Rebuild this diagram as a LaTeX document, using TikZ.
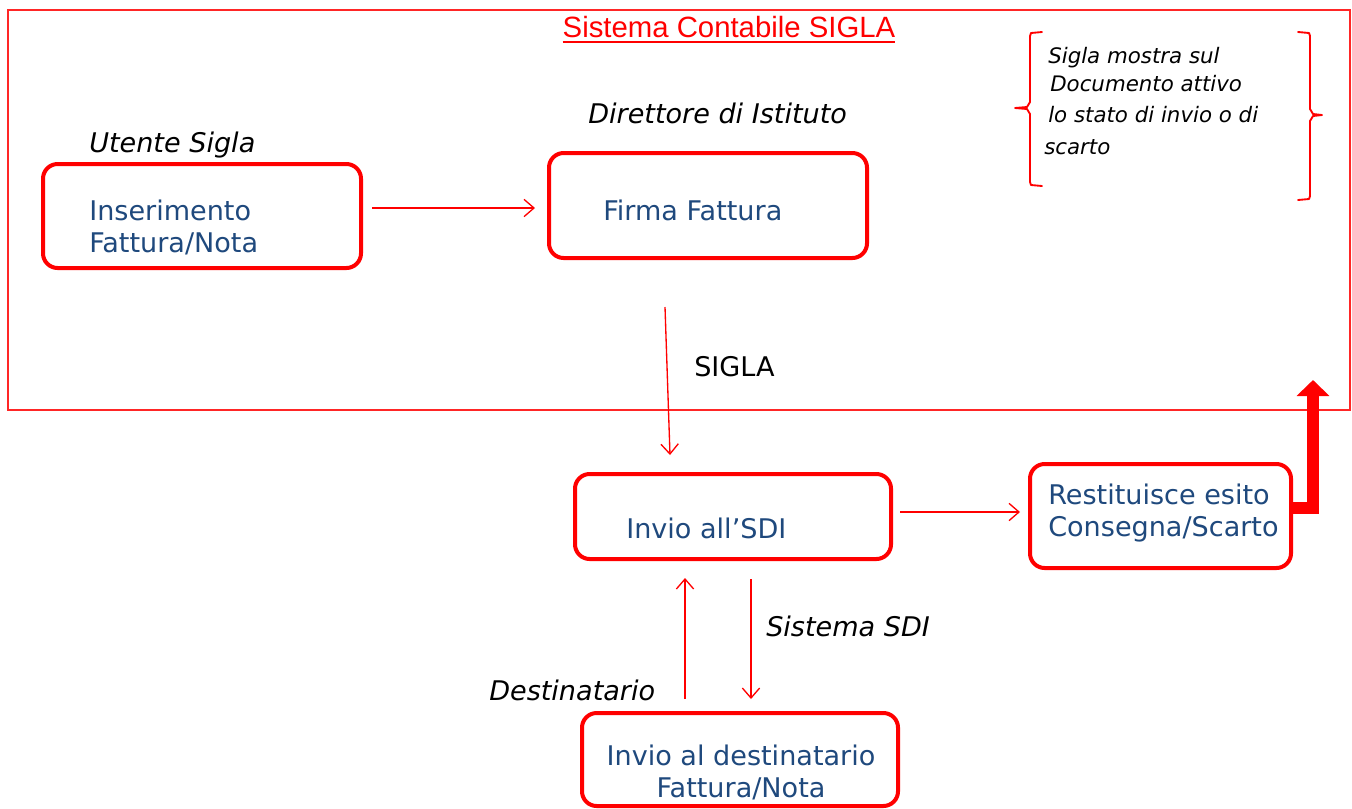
\documentclass[tikz,border=0pt]{standalone}
\usepackage{fontspec}
\setmainfont{DejaVu Sans}
\newfontfamily\titlefont{Liberation Sans}
\usetikzlibrary{arrows.meta,calc}
\definecolor{boxred}{HTML}{FF0000}
\definecolor{txtblue}{HTML}{1F497D}
\newcommand\ulred[1]{\setbox0\hbox{#1}\rlap{\raisebox{-4pt}{\rule{\wd0}{1.6pt}}}\box0}
\tikzset{
  box/.style={draw=boxred, line width=3pt, rounded corners=11pt, fill=white, inner sep=0pt},
  boxtext/.style={text=txtblue, font=\fontsize{20.3}{24}\selectfont, align=left, inner sep=0pt},
  lbl/.style={font=\fontsize{20.3}{24}\selectfont\itshape, inner sep=0pt},
  notetext/.style={font=\fontsize{16}{18}\selectfont\itshape, inner sep=0pt, anchor=west},
  arr/.style={draw=boxred, line width=1pt, -{Straight Barb[length=7.5pt,width=13pt]}},
  bigarr/.style={draw=boxred, line width=9pt, line join=miter, -{Triangle[length=12pt,width=24pt]}},
  brace/.style={draw=boxred, line width=1.4pt, line join=round, line cap=round}
}
\begin{document}
\begin{tikzpicture}[x=0.75pt,y=-0.75pt]
\useasboundingbox (0,0) rectangle (1352,808);
% outer frame
\draw[boxred!85, line width=0.8pt] (8,10) rectangle (1350,410);
\node[text=boxred, font=\titlefont\fontsize{22}{24}\selectfont, inner sep=0pt] (title) at (729,30) {\ulred{Sistema Contabile SIGLA}};

% boxes
\node[box, minimum width=318*0.75pt, minimum height=104*0.75pt] (b1) at (202,216) {};
\node[box, minimum width=318*0.75pt, minimum height=105*0.75pt] (b2) at (708,205.5) {};
\node[box, minimum width=316*0.75pt, minimum height=85*0.75pt] (b3) at (733,516.5) {};
\node[box, minimum width=261*0.75pt, minimum height=104*0.75pt] (b4) at (1160.5,516) {};
\node[box, minimum width=316*0.75pt, minimum height=93*0.75pt] (b5) at (740,759.5) {};

% box texts
\node[boxtext, anchor=west] (t1) at (89,227) {Inserimento\\Fattura/Nota};
\node[boxtext, anchor=west] (t2) at (603,210) {Firma Fattura};
\node[boxtext, anchor=west] (t3) at (626,528) {Invio all’SDI};
\node[boxtext, anchor=west] (t4) at (1048,513) {Restituisce esito\\Consegna/Scarto};
\node[boxtext, align=center] (t5) at (741,772) {Invio al destinatario\\Fattura/Nota};

% labels
\node[lbl, anchor=west] (l1) at (89,145) {Utente Sigla};
\node[lbl, anchor=west] (l2) at (588,113) {Direttore di Istituto};
\node[font=\fontsize{20.3}{24}\selectfont, inner sep=0pt, anchor=west] (l3) at (694,367) {SIGLA};
\node[lbl, anchor=west] (l4) at (766,626) {Sistema SDI};
\node[lbl, anchor=west] (l5) at (489,690) {Destinatario};

% note with braces
\node[notetext] (n1) at (1048,58) {Sigla mostra sul};
\node[notetext] (n2) at (1050,84) {Documento attivo};
\node[notetext] (n3) at (1048,115) {lo stato di invio o di};
\node[notetext] (n4) at (1044,147) {scarto};
\draw[brace] (1042,32) -- (1031,33) -- (1030,36) -- (1030,102) -- (1027,107) -- (1015,108) -- (1027,109) -- (1030,114) -- (1030,182) -- (1031,185) -- (1042,186);
\draw[brace] (1298,32) -- (1309,33) -- (1310,36) -- (1310,109) -- (1313,114) -- (1322,115) -- (1313,116) -- (1310,121) -- (1310,196) -- (1309,199) -- (1298,200);

% connectors
\draw[arr] ($(b1.east)+(9,-8)$) -- ($(b2.west)+(-12,2.5)$);
\draw[arr] ($(b2.south)+(-43,47)$) -- ($(b3.north)+(-63,-17)$);
\draw[arr] ($(b3.east)+(7,-4.5)$) -- ($(b4.west)+(-8,-4)$);
\coordinate (up) at (1313,380);
\draw[bigarr] ($(b4.east)+(-1,-8)$) -| (up);
\draw[arr] ($(b5.north)+(-55,-12)$) -- ($(b3.south)+(-48,17)$);
\draw[arr] ($(b3.south)+(18,18)$) -- ($(b5.north)+(11,-12)$);
\end{tikzpicture}
\end{document}
